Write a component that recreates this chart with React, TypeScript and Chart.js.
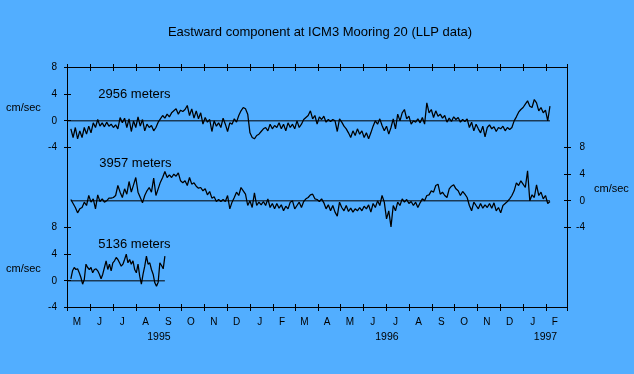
import React, { useEffect, useRef } from 'react';
import { Chart, registerables } from 'chart.js';

Chart.register(...registerables);

// ---------- text ----------
const TITLE = 'Eastward component at ICM3 Mooring 20 (LLP data)';
const DEPTH_LABELS = ['2956 meters', '3957 meters', '5136 meters'];
const UNIT_LABEL = 'cm/sec';
const MONTH_LETTERS = ['M', 'J', 'J', 'A', 'S', 'O', 'N', 'D', 'J', 'F', 'M', 'A', 'M', 'J', 'J', 'A', 'S', 'O', 'N', 'D', 'J', 'F'];
const YEAR_LABELS = ['1995', '1996', '1997'];
const VALUE_TICKS = [8, 4, 0, -4];

// ---------- sampling (days after 1 May 1995) ----------
const FIRST_DAY = 4.5;
const STEP_2956_3957 = 3;
const STEP_5136 = 2.25;

// ---------- eastward velocity, cm/sec ----------
const east2956 = [
  -1.2, -2.5, -1.0, -2.7, -1.5, -2.5, -1.0, -2.0, -0.8, -1.8,
  -0.3, -1.0, 0.2, -0.8, -0.3, -0.9, -0.2, -0.8, -0.5, -1.0,
  -0.6, -1.2, 0.5, -0.3, 0.4, -1.0, 0.3, -1.6, 0.0, -1.0,
  0.6, -0.8, 0.2, -1.5, -0.5, -1.0, -0.7, -1.5, -1.0, -0.2,
  0.3, 0.8, 0.4, 1.0, 0.6, 1.2, 1.5, 1.8, 1.0, 1.6,
  1.4, 1.7, 2.3, 0.8, 1.8, 0.4, 1.5, 0.3, 1.2, -0.5,
  0.5, -0.2, 0.2, -1.6, 0.0, -0.8, -0.3, -1.0, 0.4, -0.5,
  -1.6, -0.3, -0.5, 0.3, -0.2, 0.8, 1.5, 2.0, 1.8, 1.0,
  -1.8, -2.5, -2.7, -2.2, -2.0, -1.6, -1.2, -1.0, -1.5, -0.5,
  -1.2, -0.7, -1.0, -0.3, -1.2, -0.5, -1.5, -0.3, -1.0, -0.5,
  -1.2, 0.0, -1.0, -0.5, 0.2, 0.5, 0.8, 1.5, 0.3, 0.8,
  -0.5, 0.6, 0.2, 0.7, -0.2, 0.2, -0.1, 0.2, 0.0, -1.6,
  0.3, -0.2, -0.8, -1.2, -1.8, -2.5, -1.5, -2.2, -1.2, -2.0,
  -1.5, -2.5, -1.8, -2.7, -1.8, -0.8, 0.0, -0.5, 0.3, -0.7,
  -1.5, -0.8, -2.0, -1.0, 0.3, -1.2, 1.0, 0.0, 1.2, 1.7,
  0.3, 0.7, -0.5, 0.0, -0.2, 0.3, -0.3, 0.5, -0.5, 2.7,
  1.2, 1.7, 0.5, 1.5, 0.7, 1.0, 0.4, 0.8, -0.2, 0.4,
  -0.1, 0.6, 0.2, 0.5, -0.2, 0.2, -0.1, 0.3, -1.0, -0.2,
  -1.5, -0.5, -1.2, -1.8, -0.8, -2.4, -1.0, -0.6, -1.2, -0.9,
  -1.6, -1.0, -1.2, -0.8, -1.5, -1.0, -1.3, -1.0, 0.0, 0.6,
  1.3, 1.7, 2.0, 2.5, 3.0, 2.2, 2.0, 3.2, 2.7, 1.5,
  2.0, 1.2, 1.6, 0.0, 2.2,
];

const east3957 = [
  0.2, -0.4, -1.0, -1.8, -1.2, -1.0, -0.2, -0.7, 0.8, -0.2,
  0.3, -1.2, 0.9, -0.1, 0.3, -0.2, 0.0, 0.4, 0.4, 0.5,
  0.8, 2.3, 1.3, 0.5, 1.8, 1.0, 2.9, 1.3, 2.4, 3.5,
  1.3, 0.5, -0.3, 0.8, 1.5, 2.0, 1.3, 3.4, 0.8, 1.8,
  2.8, 3.5, 4.4, 3.5, 3.9, 3.5, 4.0, 3.7, 4.2, 3.0,
  2.7, 3.0, 2.3, 3.5, 2.5, 2.7, 2.2, 1.9, 2.0, 1.5,
  1.8, 0.9, 1.4, 0.4, 0.6, -0.1, 0.2, -0.1, 0.2, -0.1,
  0.8, -1.2, -0.2, 0.5, 1.3, 0.8, 2.0, 1.5, 1.0, -0.7,
  0.0, -1.0, 1.2, -0.7, -0.2, -0.6, -0.1, -0.7, 0.3, -1.0,
  -0.4, -1.2, -0.4, -1.1, -0.6, -1.5, -0.8, -1.2, -0.2, 0.0,
  -1.2, -0.7, -0.2, -1.0, -0.1, 0.3, 0.5, 0.9, 1.0, 0.3,
  0.2, -0.1, 0.3, -0.3, -1.2, -0.6, -1.5, -0.7, -1.7, -2.3,
  -0.2, -1.0, -1.5, -0.7, -1.6, -1.1, -1.7, -1.2, -1.5, -1.0,
  -1.5, -0.8, -1.2, -0.6, -1.7, -0.4, -1.0, 0.0, -0.7, 0.8,
  -0.2, -2.7, -1.5, -3.9, -0.7, -1.5, -0.2, -0.7, 0.3, -0.2,
  0.2, -0.4, -0.1, -0.7, -0.2, -1.0, -0.3, 0.3, 0.0, 0.8,
  0.9, 1.5, 1.3, 2.3, 2.5, 1.0, 1.3, 0.8, 0.5, 1.8,
  2.2, 2.4, 1.8, 1.5, 0.8, 1.4, 1.0, 0.5, -0.7, -1.5,
  -0.2, -0.7, -1.2, -0.4, -1.1, -0.6, -1.0, -0.4, -1.1, -0.3,
  -1.5, -1.0, -1.8, -0.7, -0.4, -0.1, 0.3, 0.8, 1.5, 2.7,
  2.3, 3.0, 2.5, 2.0, 4.5, 0.0, 0.9, 0.5, 2.4, 0.8,
  1.3, 0.3, 0.8, -0.4, -0.1,
];

const east5136 = [
  0.3, 1.5, 2.0, 1.7, 1.8, 1.2, 0.5, -0.5, 0.2, 2.5,
  2.0, 1.7, 2.0, 1.2, 1.7, 1.8, 1.5, 1.0, 0.3, 1.0,
  2.0, 3.0, 1.7, 2.5, 1.5, 2.7, 3.0, 3.5, 3.2, 2.7,
  2.2, 2.5, 3.2, 4.0, 2.7, 3.2, 2.5, 3.0, 1.7, 1.2,
  2.5, 0.7, -0.5, 1.0, 2.2, 3.7, 2.5, 2.7, 1.7, 1.0,
  -0.3, -0.8, -0.2, 2.7, 2.3, 1.8, 3.7,
];

// ---------- layout helpers ----------
const FONT = "'Liberation Sans', Arial, Helvetica, sans-serif";
const BG = '#52AEFF';
const PANEL_SHIFT = [0, -12, -24];
const Y_MIN = -28;
const Y_MAX = 8;

const dayOf = (y: number, m: number) => (Date.UTC(y, m, 1) - Date.UTC(1995, 4, 1)) / 86400000;
const MONTH_EDGES = Array.from({ length: 23 }, (_, k) => dayOf(1995, 4 + k));
const X_MAX = MONTH_EDGES[22];
const MONTH_CENTERS = MONTH_EDGES.slice(0, -1).map((d, k) => (d + MONTH_EDGES[k + 1]) / 2 - 3);
const YEAR_EDGES = [0, dayOf(1996, 0), dayOf(1997, 0), X_MAX];
const YEAR_CENTERS = YEAR_LABELS.map((_, k) => (YEAR_EDGES[k] + YEAR_EDGES[k + 1]) / 2);
const LEFT_TICKS = [...VALUE_TICKS.map((v) => v + PANEL_SHIFT[0]), ...VALUE_TICKS.map((v) => v + PANEL_SHIFT[2])];
const RIGHT_TICKS = VALUE_TICKS.map((v) => v + PANEL_SHIFT[1]);
const LABEL_ANCHORS = [
  { day: 41.3, value: 3.95 + PANEL_SHIFT[0] },
  { day: 42.6, value: 5.6 + PANEL_SHIFT[1] },
  { day: 41.3, value: 5.5 + PANEL_SHIFT[2] },
];
const UNIT_LEFT = [1.9 + PANEL_SHIFT[0], 1.8 + PANEL_SHIFT[2]];
const UNIT_RIGHT = [1.85 + PANEL_SHIFT[1]];

function toPoints(vals: number[], step: number, shift: number) {
  return vals.map((v, i) => ({ x: FIRST_DAY + i * step, y: v + shift }));
}
function lastDay(vals: number[], step: number) {
  return FIRST_DAY + (vals.length - 1) * step;
}

const snap = (v: number) => Math.floor(v) + 0.5;

const framePlugin = {
  id: 'frame',
  afterDatasetsDraw(chart: any) {
    const { ctx, chartArea: a, scales } = chart;
    const x = scales.x;
    const y = scales.y;
    const L = snap(a.left), R = snap(a.right), T = snap(a.top), B = snap(a.bottom);
    ctx.save();
    ctx.strokeStyle = '#000';
    ctx.lineWidth = 1;
    ctx.beginPath();
    ctx.moveTo(L, T); ctx.lineTo(R, T); ctx.lineTo(R, B); ctx.lineTo(L, B); ctx.closePath();
    for (const d of MONTH_EDGES) {
      const px = snap(x.getPixelForValue(d));
      ctx.moveTo(px, T - 3.5); ctx.lineTo(px, T + 3.5);
      ctx.moveTo(px, B - 3.5); ctx.lineTo(px, B + 3.5);
    }
    for (const v of LEFT_TICKS) {
      const py = snap(y.getPixelForValue(v));
      ctx.moveTo(L - 3.5, py); ctx.lineTo(L + 3.5, py);
    }
    for (const v of RIGHT_TICKS) {
      const py = snap(y.getPixelForValue(v));
      ctx.moveTo(R - 3.5, py); ctx.lineTo(R + 3.5, py);
    }
    ctx.stroke();
    ctx.fillStyle = '#000';
    ctx.font = `13px ${FONT}`;
    ctx.textAlign = 'left';
    ctx.textBaseline = 'middle';
    DEPTH_LABELS.forEach((t, k) => {
      ctx.fillText(t, x.getPixelForValue(LABEL_ANCHORS[k].day), y.getPixelForValue(LABEL_ANCHORS[k].value));
    });
    ctx.restore();
  },
};

const hiddenGrid = { display: false, drawTicks: false };
const noBorder = { display: false };

export default function App() {
  const ref = useRef<HTMLCanvasElement | null>(null);

  useEffect(() => {
    document.body.style.margin = '0';
    document.body.style.background = BG;
    const canvas = ref.current;
    if (!canvas) return;

    const series = [
      { vals: east2956, step: STEP_2956_3957, shift: PANEL_SHIFT[0], zeroFrom: 0 },
      { vals: east3957, step: STEP_2956_3957, shift: PANEL_SHIFT[1], zeroFrom: FIRST_DAY },
      { vals: east5136, step: STEP_5136, shift: PANEL_SHIFT[2], zeroFrom: 0 },
    ];
    const datasets: any[] = [];
    series.forEach((s, k) => {
      datasets.push({
        label: DEPTH_LABELS[k] + ' zero',
        borderWidth: 1,
        data: [
          { x: s.zeroFrom, y: s.shift },
          { x: lastDay(s.vals, s.step), y: s.shift },
        ],
      });
      datasets.push({ label: DEPTH_LABELS[k], borderWidth: 1.25, data: toPoints(s.vals, s.step, s.shift) });
    });

    const tickFont = { family: FONT, size: 10 };
    const chart = new Chart(canvas, {
      type: 'line',
      data: { datasets },
      options: {
        responsive: false,
        animation: false,
        events: [],
        layout: { padding: { left: 6, right: 0, top: 0, bottom: 0 } },
        elements: {
          point: { radius: 0 },
          line: { borderWidth: 1, tension: 0, borderColor: '#000', borderJoinStyle: 'bevel', fill: false },
        },
        plugins: {
          legend: { display: false },
          tooltip: { enabled: false },
          title: {
            display: true,
            text: TITLE,
            color: '#000',
            font: { family: FONT, size: 13, weight: 'normal' },
            padding: { top: 25, bottom: 26.9 },
          },
        },
        scales: {
          x: {
            type: 'linear', position: 'bottom', min: 0, max: X_MAX, weight: 0,
            grid: hiddenGrid, border: noBorder,
            afterBuildTicks: (s: any) => { s.ticks = MONTH_CENTERS.map((value) => ({ value })); },
            afterFit: (s: any) => { s.height = 22; },
            ticks: {
              autoSkip: false, maxRotation: 0, minRotation: 0, padding: 9, color: '#000', font: tickFont,
              callback: (_v: any, i: number) => MONTH_LETTERS[i],
            },
          },
          xYear: {
            type: 'linear', position: 'bottom', min: 0, max: X_MAX, weight: 1,
            grid: hiddenGrid, border: noBorder,
            afterBuildTicks: (s: any) => { s.ticks = YEAR_CENTERS.map((value) => ({ value })); },
            afterFit: (s: any) => { s.height = 44.5; },
            ticks: {
              autoSkip: false, maxRotation: 0, minRotation: 0, padding: 1.2, color: '#000',
              font: { family: FONT, size: 10.5 },
              callback: (_v: any, i: number) => YEAR_LABELS[i],
            },
          },
          y: {
            type: 'linear', position: 'left', min: Y_MIN, max: Y_MAX, weight: 0,
            grid: hiddenGrid, border: noBorder,
            afterBuildTicks: (s: any) => { s.ticks = LEFT_TICKS.map((value) => ({ value })); },
            afterFit: (s: any) => { s.width = 25.5; },
            ticks: {
              autoSkip: false, padding: 10.5, color: '#000', font: tickFont,
              callback: (v: any) => String(v >= -4 ? v - PANEL_SHIFT[0] : v - PANEL_SHIFT[2]),
            },
          },
          yUnitL: {
            type: 'linear', position: 'left', min: Y_MIN, max: Y_MAX, weight: 1,
            grid: hiddenGrid, border: noBorder,
            afterBuildTicks: (s: any) => { s.ticks = UNIT_LEFT.map((value) => ({ value })); },
            afterFit: (s: any) => { s.width = 36; },
            ticks: {
              autoSkip: false, padding: 0, crossAlign: 'far', color: '#000', font: { family: FONT, size: 11 },
              callback: () => UNIT_LABEL,
            },
          },
          y2: {
            type: 'linear', position: 'right', min: Y_MIN, max: Y_MAX, weight: 0,
            grid: hiddenGrid, border: noBorder,
            afterBuildTicks: (s: any) => { s.ticks = RIGHT_TICKS.map((value) => ({ value })); },
            afterFit: (s: any) => { s.width = 17.5; },
            ticks: {
              autoSkip: false, padding: 0, crossAlign: 'far', color: '#000', font: tickFont,
              callback: (v: any) => String(v - PANEL_SHIFT[1]),
            },
          },
          yUnitR: {
            type: 'linear', position: 'right', min: Y_MIN, max: Y_MAX, weight: 1,
            grid: hiddenGrid, border: noBorder,
            afterBuildTicks: (s: any) => { s.ticks = UNIT_RIGHT.map((value) => ({ value })); },
            afterFit: (s: any) => { s.width = 49; },
            ticks: {
              autoSkip: false, padding: 9, color: '#000', font: { family: FONT, size: 11 },
              callback: () => UNIT_LABEL,
            },
          },
        },
      } as any,
      plugins: [framePlugin],
    });
    return () => chart.destroy();
  }, []);

  return (
    <div style={{ width: 634, height: 374, background: BG }}>
      <canvas ref={ref} width={634} height={374} style={{ display: 'block', width: 634, height: 374 }} />
    </div>
  );
}
